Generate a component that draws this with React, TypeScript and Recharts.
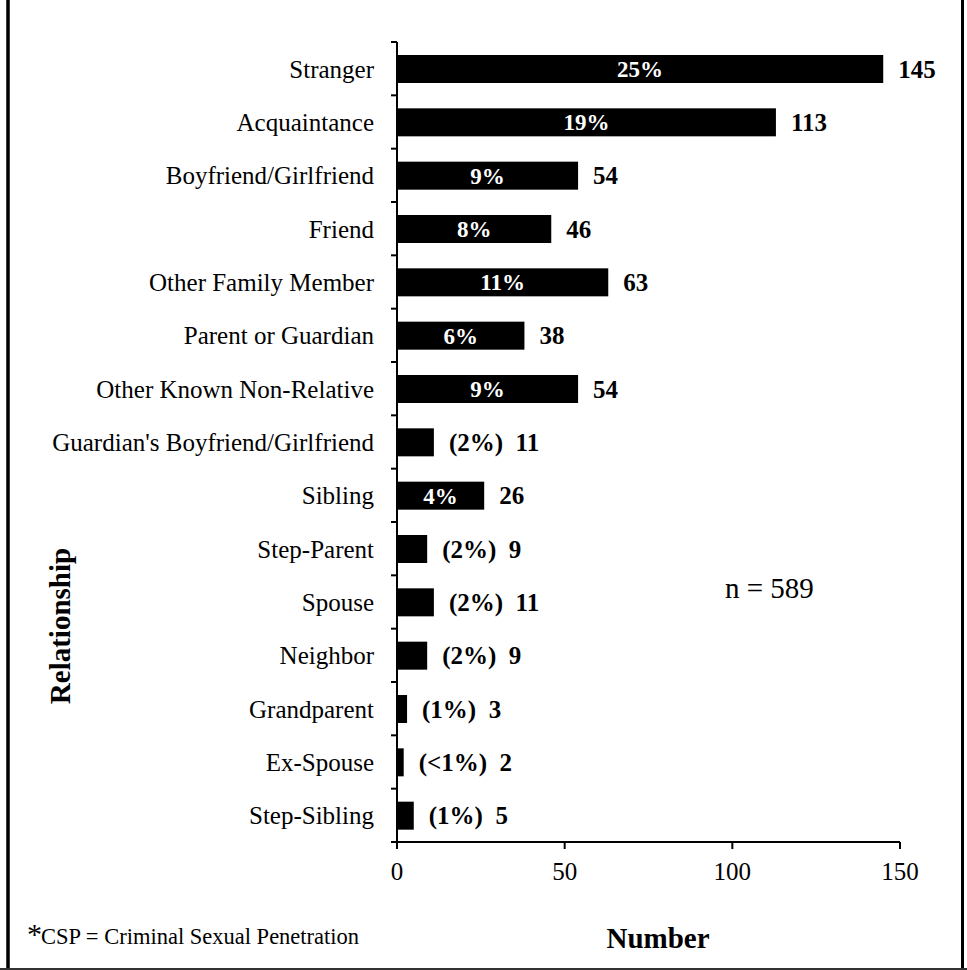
import React from 'react';
import { BarChart, Bar, XAxis, YAxis } from 'recharts';

const categories = [
  'Stranger',
  'Acquaintance',
  'Boyfriend/Girlfriend',
  'Friend',
  'Other Family Member',
  'Parent or Guardian',
  'Other Known Non-Relative',
  "Guardian's Boyfriend/Girlfriend",
  'Sibling',
  'Step-Parent',
  'Spouse',
  'Neighbor',
  'Grandparent',
  'Ex-Spouse',
  'Step-Sibling',
];
const counts = [145, 113, 54, 46, 63, 38, 54, 11, 26, 9, 11, 9, 3, 2, 5];
const percentLabels = ['25%', '19%', '9%', '8%', '11%', '6%', '9%', '2%', '4%', '2%', '2%', '2%', '1%', '<1%', '1%'];
const percentInside = [true, true, true, true, true, true, true, false, true, false, false, false, false, false, false];
const xTicks = [0, 50, 100, 150];

const data = categories.map((name, i) => ({
  name,
  count: counts[i],
  pct: percentLabels[i],
  inside: percentInside[i],
}));

const W = 967;
const H = 970;
const X_AXIS_H = 30;
const MARGIN = { top: 42, right: 67, bottom: 98, left: 0 };
const Y_AXIS_W = 397;
const PLOT_H = H - MARGIN.top - MARGIN.bottom - X_AXIS_H;
const BAND = PLOT_H / categories.length;
const FONT = '"Liberation Serif", "Times New Roman", serif';
const Y_TICK_SIZE = 6;
const Y_TICK_MARGIN = 17;

const YTick = (props: any) => {
  const { x, y, payload, index } = props;
  const axisX = x + Y_TICK_MARGIN + Y_TICK_SIZE;
  const last = index === categories.length - 1;
  return (
    <g>
      <line x1={axisX - Y_TICK_SIZE} x2={axisX} y1={y - BAND / 2} y2={y - BAND / 2} stroke="#000" strokeWidth={2} />
      {last && (
        <line x1={axisX - Y_TICK_SIZE} x2={axisX} y1={y + BAND / 2} y2={y + BAND / 2} stroke="#000" strokeWidth={2} />
      )}
      <text x={x} y={y} dy="0.355em" textAnchor="end" fill="#000" fontSize={25} fontFamily={FONT}>
        {payload.value}
      </text>
    </g>
  );
};

const BarShape = (props: any) => {
  const { x, y, width, height, payload } = props;
  const cy = y + height / 2;
  const outside = payload.inside ? String(payload.count) : `(${payload.pct})  ${payload.count}`;
  return (
    <g>
      <rect x={x} y={y} width={width} height={height} fill="#000" />
      {payload.inside && (
        <text x={x + width / 2} y={cy} dy="0.35em" textAnchor="middle" fill="#fff" fontWeight="bold" fontSize={23} fontFamily={FONT}>
          {payload.pct}
        </text>
      )}
      <text x={x + width + 15} y={cy} dy="0.35em" fill="#000" fontWeight="bold" fontSize={25} fontFamily={FONT} style={{ whiteSpace: 'pre' }}>
        {outside}
      </text>
    </g>
  );
};

export default function App() {
  return (
    <div style={{ position: 'absolute', left: 0, top: 0, width: W, height: H, background: '#fff', fontFamily: FONT }}>
      <BarChart
        width={W}
        height={H}
        data={data}
        layout="vertical"
        margin={MARGIN}
        barSize={28}
        style={{ fontFamily: FONT }}
      >
        <XAxis
          type="number"
          domain={[0, 150]}
          ticks={xTicks}
          interval={0}
          height={X_AXIS_H}
          tickSize={7}
          tickMargin={13}
          axisLine={{ stroke: '#000', strokeWidth: 2 }}
          tickLine={{ stroke: '#000', strokeWidth: 2 }}
          tick={{ fill: '#000', fontSize: 25, fontFamily: FONT }}
        />
        <YAxis
          type="category"
          dataKey="name"
          width={Y_AXIS_W}
          interval={0}
          tickSize={Y_TICK_SIZE}
          tickMargin={Y_TICK_MARGIN}
          tickLine={false}
          axisLine={{ stroke: '#000', strokeWidth: 2 }}
          tick={<YTick />}
        />
        <Bar dataKey="count" fill="#000" isAnimationActive={false} shape={<BarShape />} />
      </BarChart>
      <svg width={W} height={H} style={{ position: 'absolute', left: 0, top: 0, pointerEvents: 'none' }}>
        <line x1={8} x2={8} y1={0} y2={H} stroke="#000" strokeWidth={3.5} />
        <line x1={962.5} x2={962.5} y1={0} y2={H} stroke="#000" strokeWidth={3} />
        <line x1={0} x2={W} y1={969} y2={969} stroke="#333" strokeWidth={2} />
        <text x={658} y={948} textAnchor="middle" fontWeight="bold" fontSize={29} fontFamily={FONT} fill="#000">
          Number
        </text>
        <text
          transform="translate(70,626) rotate(-90)"
          textAnchor="middle"
          fontWeight="bold"
          fontSize={29}
          fontFamily={FONT}
          fill="#000"
        >
          Relationship
        </text>
        <text x={725} y={598} fontSize={29} fontFamily={FONT} fill="#000">
          n = 589
        </text>
        <text x={27} y={944} fontFamily={FONT} fill="#000">
          <tspan fontSize={30}>*</tspan>
          <tspan x={41} fontSize={22.5}>CSP = Criminal Sexual Penetration</tspan>
        </text>
      </svg>
    </div>
  );
}
